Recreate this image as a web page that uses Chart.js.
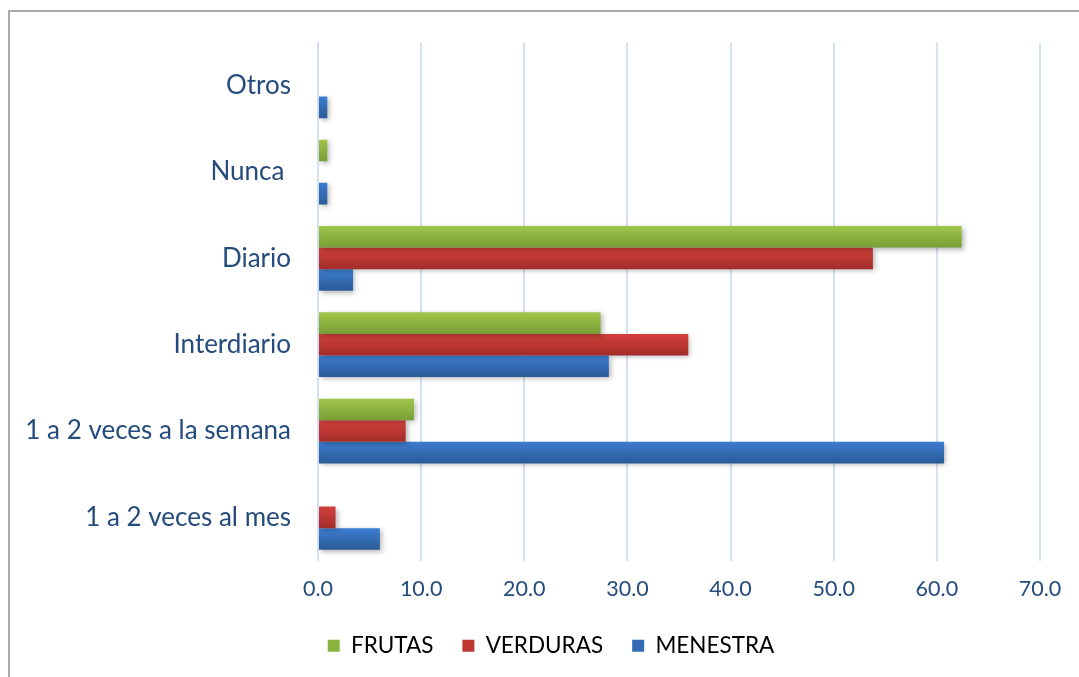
<!DOCTYPE html>
<html>
<head>
<meta charset="utf-8">
<script src="https://cdn.jsdelivr.net/npm/chart.js@4.4.1/dist/chart.umd.min.js"></script>
<style>
    html, body { margin: 0; padding: 0; background: #fff; }
    body { width: 1079px; height: 677px; position: relative; overflow: hidden; }
    .marco {
        position: absolute; left: 8px; top: 10px; width: 1200px; height: 800px;
        border-top: 2px solid #A9A9A9; border-left: 2px solid #A9A9A9;
    }
    #wrap { position: absolute; left: 0; top: 0; width: 1079px; height: 677px; }
</style>
</head>
<body>
<div class="marco"></div>
<div id="wrap"><canvas id="grafico"></canvas></div>
<script>
const categorias = ['Otros', 'Nunca ', 'Diario', 'Interdiario', '1 a 2 veces a la semana', '1 a 2 veces al mes'];
const frutas   = [0,   0.9, 62.4, 27.4, 9.3,  0];
const verduras = [0,   0,   53.8, 35.9, 8.5,  1.7];
const menestra = [0.9, 0.9, 3.4,  28.2, 60.7, 6.0];
const ticksX = [0, 10, 20, 30, 40, 50, 60, 70];

const textoAzul = '#254B7D';
const CAT_PCT = 0.75;

// degradado vertical por barra (claro arriba, oscuro abajo)
function degradado(arriba, abajo) {
    return (c) => {
        const chart = c.chart;
        const ys = chart.scales.y;
        if (!ys || !chart.chartArea || c.type !== 'data') return abajo;
        const banda = Math.abs(ys.getPixelForValue(1) - ys.getPixelForValue(0));
        const h = banda * CAT_PCT / 3;
        const centro = ys.getPixelForValue(c.dataIndex) + (c.datasetIndex - 1) * h;
        const g = chart.ctx.createLinearGradient(0, centro - h / 2, 0, centro + h / 2);
        g.addColorStop(0, arriba);
        g.addColorStop(1, abajo);
        return g;
    };
}

const sombra = {
    id: 'sombra',
    beforeDatasetsDraw(chart) {
        const ctx = chart.ctx;
        ctx.save();
        ctx.shadowColor = 'rgba(0,0,0,0.28)';
        ctx.shadowBlur = 5;
        ctx.shadowOffsetX = 2;
        ctx.shadowOffsetY = 2;
    },
    afterDatasetsDraw(chart) {
        chart.ctx.restore();
    }
};

// la leyenda del original está un poco desplazada a la derecha
const moverLeyenda = {
    id: 'moverLeyenda',
    afterLayout(chart) {
        if (chart.legend) {
            chart.legend.left += 31;
            chart.legend.right += 31;
        }
    }
};

const colores = [
    { nombre: 'FRUTAS',   arriba: '#A0C64A', abajo: '#779E36', solido: '#8AB340' },
    { nombre: 'VERDURAS', arriba: '#D2403C', abajo: '#A22C2A', solido: '#BE3733' },
    { nombre: 'MENESTRA', arriba: '#3B7DD0', abajo: '#2B5B98', solido: '#336CB5' }
];
const series = [frutas, verduras, menestra];

new Chart(document.getElementById('grafico'), {
    type: 'bar',
    data: {
        labels: categorias,
        datasets: series.map((s, i) => ({
            label: colores[i].nombre,
            data: s,
            backgroundColor: degradado(colores[i].arriba, colores[i].abajo),
            borderWidth: 0,
            categoryPercentage: CAT_PCT,
            barPercentage: 1.0
        }))
    },
    options: {
        indexAxis: 'y',
        responsive: true,
        maintainAspectRatio: false,
        animation: false,
        layout: { padding: { top: 41, right: 39, bottom: 10, left: 0 } },
        plugins: {
            tooltip: { enabled: false },
            legend: {
                position: 'bottom',
                labels: {
                    color: textoAzul,
                    font: { family: 'Lato', size: 22.5 },
                    boxWidth: 12,
                    boxHeight: 12,
                    padding: 29,
                    generateLabels: () => colores.map((c, i) => ({
                        text: c.nombre,
                        fillStyle: c.solido,
                        strokeStyle: c.solido,
                        lineWidth: 0,
                        datasetIndex: i
                    }))
                }
            }
        },
        scales: {
            x: {
                min: 0,
                max: 70,
                afterBuildTicks: (ax) => { ax.ticks = ticksX.map(v => ({ value: v })); },
                afterFit: (ax) => { ax.height = 45; },
                grid: { color: '#D3E1F4', lineWidth: 2, drawTicks: false },
                border: { display: false },
                ticks: {
                    color: textoAzul,
                    font: { family: 'Lato', size: 21.5 },
                    padding: 16,
                    callback: (v) => Number(v).toFixed(1)
                }
            },
            y: {
                afterFit: (ax) => { ax.width = 318; },
                grid: { display: false, drawTicks: false },
                border: { display: true, color: '#D3E1F4', width: 2 },
                ticks: {
                    color: textoAzul,
                    font: { family: 'Lato', size: 26 },
                    padding: 27
                }
            }
        }
    },
    plugins: [sombra, moverLeyenda]
});
</script>
</body>
</html>
